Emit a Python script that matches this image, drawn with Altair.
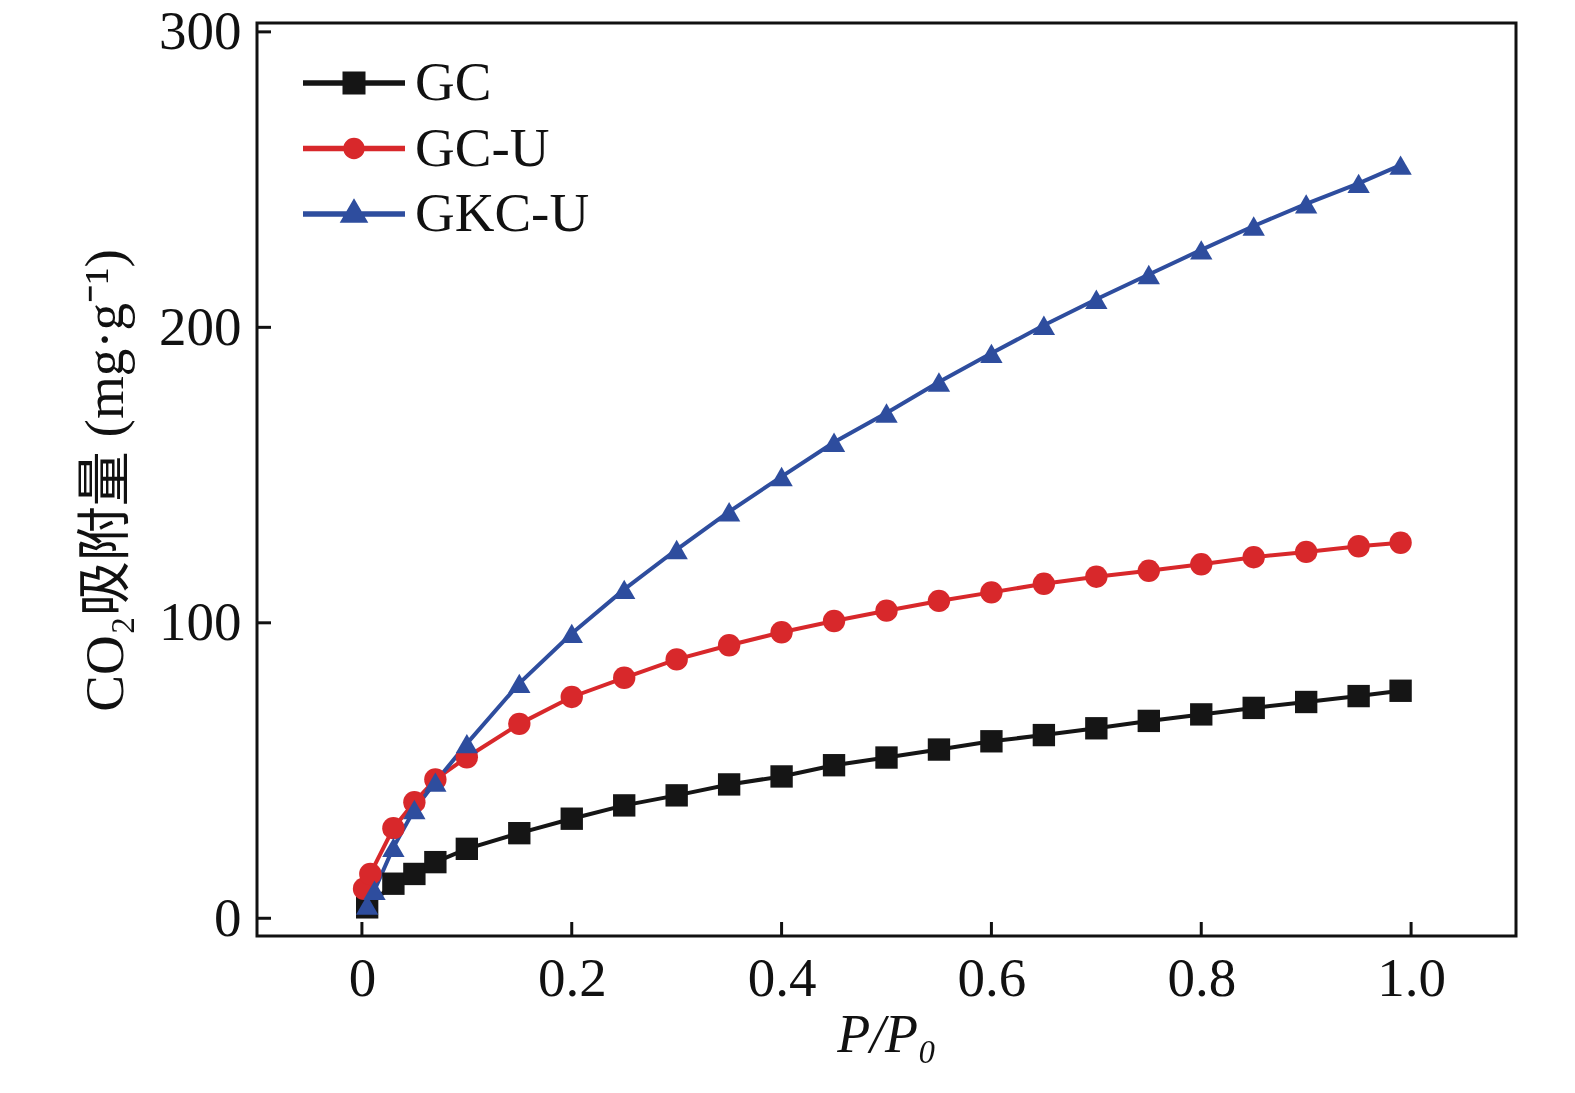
import pandas as pd
import altair as alt

# series (P/P0, CO2 uptake in mg/g)
gc_x = [0.005, 0.03, 0.05, 0.07, 0.1, 0.15, 0.2, 0.25, 0.3, 0.35, 0.4, 0.45, 0.5,
        0.55, 0.6, 0.65, 0.7, 0.75, 0.8, 0.85, 0.9, 0.95, 0.99]
gc_y = [3.7, 11.7, 15.0, 19.0, 23.5, 28.8, 33.7, 38.2, 41.6, 45.3, 48.0, 51.8, 54.4,
        57.1, 59.9, 62.0, 64.3, 66.8, 69.0, 71.2, 73.2, 75.2, 77.0]

gcu_x = [0.002, 0.008, 0.03, 0.05, 0.07, 0.1, 0.15, 0.2, 0.25, 0.3, 0.35, 0.4, 0.45,
         0.5, 0.55, 0.6, 0.65, 0.7, 0.75, 0.8, 0.85, 0.9, 0.95, 0.99]
gcu_y = [10.0, 15.0, 30.5, 39.3, 47.0, 54.5, 65.8, 74.9, 81.4, 87.6, 92.4, 96.8, 100.6,
         104.1, 107.4, 110.3, 113.2, 115.6, 117.6, 119.8, 122.2, 124.0, 125.9, 127.1]

gkcu_x = [0.005, 0.012, 0.03, 0.05, 0.07, 0.1, 0.15, 0.2, 0.25, 0.3, 0.35, 0.4, 0.45,
          0.5, 0.55, 0.6, 0.65, 0.7, 0.75, 0.8, 0.85, 0.9, 0.95, 0.99]
gkcu_y = [4.5, 9.5, 24.0, 36.8, 46.1, 59.1, 79.5, 96.4, 111.3, 124.8, 137.6, 149.5, 161.1,
          171.0, 181.5, 191.2, 200.7, 209.5, 217.9, 226.2, 234.3, 241.8, 248.7, 254.9]

names = ["GC", "GC-U", "GKC-U"]
colors = ["#151515", "#d8282b", "#2e4d9e"]
shapes = ["square", "circle", "triangle-up"]

x_ticks = [0, 0.2, 0.4, 0.6, 0.8, 1.0]
y_ticks = [0, 100, 200, 300]

# legend symbols: a line with the marker on it (symbol size 1600 -> 1 unit = 20px)
legend_paths = [
    "M-2.55,-0.14 H2.55 V0.14 H-2.55 Z M-0.575,-0.575 H0.575 V0.575 H-0.575 Z",
    "M-2.55,-0.14 H2.55 V0.14 H-2.55 Z M-0.535,0 A0.535,0.535 0 1,1 0.535,0 A0.535,0.535 0 1,1 -0.535,0 Z",
    "M-2.55,-0.14 H2.55 V0.14 H-2.55 Z M0,-0.79 L0.715,0.435 L-0.715,0.435 Z",
]

frames = []
for n, xs, ys in zip(names, [gc_x, gcu_x, gkcu_x], [gc_y, gcu_y, gkcu_y]):
    frames.append(pd.DataFrame({"p": xs, "q": ys, "series": n}))
df = pd.concat(frames, ignore_index=True)

W, H = 1259, 913
serif = "Liberation Serif, Noto Sans CJK SC"

xs = alt.Scale(domain=[-0.1, 1.1], nice=False, zero=False)
ys = alt.Scale(domain=[-6, 303], nice=False, zero=False)
cs = alt.Scale(domain=names, range=colors)

x_enc = alt.X("p:Q", scale=xs, axis=alt.Axis(
    values=x_ticks, ticks=False, domain=False, grid=False, tickSize=0,
    labelExpr="datum.value == 0 ? '0' : format(datum.value, '.1f')",
    labelFont=serif, labelFontSize=55, labelColor="#111", labelPadding=16,
    title="P/P₀", titleFont=serif, titleFontSize=54, titleFontStyle="italic",
    titleFontWeight="normal", titleColor="#111", titleX=W / 2, titleY=99,
    titleBaseline="middle", titleAlign="center"))
y_enc = alt.Y("q:Q", scale=ys, axis=alt.Axis(
    values=y_ticks, ticks=False, domain=False, grid=False, tickSize=0,
    labelFont=serif, labelFontSize=55, labelColor="#111", labelPadding=16,
    title="CO₂吸附量 (mg·g⁻¹)", titleFont=serif, titleFontSize=55,
    titleFontWeight="normal", titleColor="#111", titleX=-152, titleY=457,
    titleAngle=-90, titleBaseline="middle", titleAlign="center"))

base = alt.Chart(df)

lines = base.mark_line(strokeWidth=4).encode(
    x=x_enc, y=y_enc,
    color=alt.Color("series:N", scale=cs, legend=None),
    detail="series:N",
)

points = base.mark_point(filled=True, size=500, opacity=1).encode(
    x="p:Q", y="q:Q",
    color=alt.Color("series:N", scale=cs, legend=None),
    shape=alt.Shape("series:N", scale=alt.Scale(domain=names, range=shapes), legend=None),
)

legend_layer = base.mark_point(filled=True, size=1600, opacity=1, strokeWidth=0).encode(
    x="p:Q", y="q:Q",
    color=alt.Color("series:N", scale=cs, legend=alt.Legend(title=None)),
    shape=alt.Shape("series:N", scale=alt.Scale(domain=names, range=legend_paths),
                    legend=alt.Legend(title=None)),
).transform_filter("false")

xtick_df = pd.DataFrame({"t": x_ticks})
ytick_df = pd.DataFrame({"t": y_ticks})

xtick_rules = alt.Chart(xtick_df).mark_rule(color="#111", strokeWidth=3).encode(
    x=alt.X("t:Q", scale=xs), y=alt.value(H), y2=alt.value(H - 14))
ytick_rules = alt.Chart(ytick_df).mark_rule(color="#111", strokeWidth=3).encode(
    y=alt.Y("t:Q", scale=ys), x=alt.value(0), x2=alt.value(14))

chart = alt.layer(
    lines, points, legend_layer, xtick_rules, ytick_rules
).resolve_scale(
    color="independent", shape="independent"
).properties(
    width=W, height=H,
    autosize=alt.AutoSizeParams(type="none"),
    padding={"left": 249, "top": 15, "right": 40, "bottom": 150},
).configure_view(
    stroke="#111", strokeWidth=3
).configure_legend(
    orient="none", legendX=69.5, legendY=32.5, padding=0, offset=0,
    labelFont=serif, labelFontSize=55, labelColor="#111", labelOffset=33.5,
    labelLimit=500, symbolSize=1600, symbolStrokeWidth=0, rowPadding=9.5,
)

chart.save("out.html", embed_options={"renderer": "svg", "actions": False})
